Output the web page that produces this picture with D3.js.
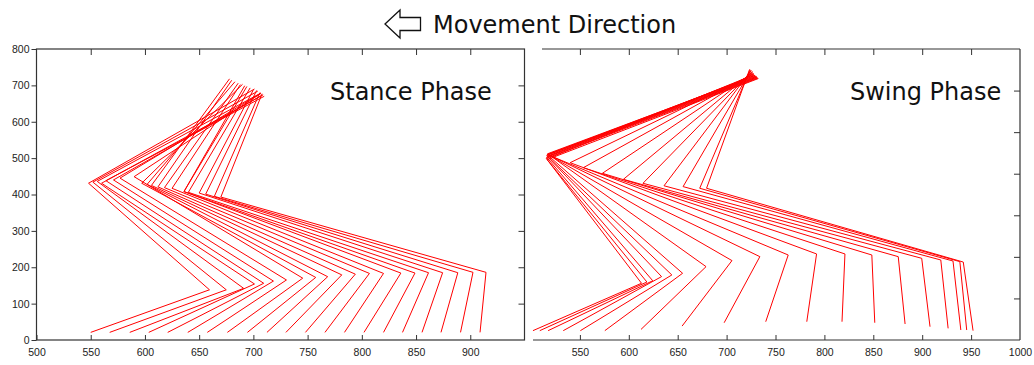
<!DOCTYPE html>
<html>
<head>
<meta charset="utf-8">
<script src="https://cdn.jsdelivr.net/npm/d3@7"></script>
<style>
  html, body { margin: 0; padding: 0; background: #fff; }
  svg { display: block; }
  .tick-label { font-family: "Liberation Sans", Arial, sans-serif; font-size: 10.5px; fill: #222; }
  .big { font-family: "DejaVu Sans", Verdana, sans-serif; font-size: 24px; fill: #111; }
</style>
</head>
<body>
<svg id="chart" width="1034" height="365"></svg>
<script>
// Leg joint positions per frame: hip -> knee -> ankle -> toe.

// Stance phase (21 frames)
const stanceHipX   = [701, 704, 707, 709, 710, 708, 706, 707, 690, 683, 678, 680, 686, 688, 692, 694, 697, 700, 703, 706, 708];
const stanceHipY   = [690, 684, 679, 674, 670, 673, 677, 678, 703, 710, 718, 714, 706, 702, 699, 697, 693, 688, 686, 680, 677];
const stanceKneeX  = [548, 552, 556, 560, 564, 571, 577, 590, 597, 602, 606, 612, 618, 625, 636, 636, 640, 650, 656, 664, 670];
const stanceKneeY  = [431, 434, 436, 431, 438, 440, 445, 449, 431, 428, 425, 421, 419, 417, 408, 408, 406, 404, 401, 395, 393];
const stanceAnkleX = [659.5, 675, 691, 701, 709.5, 718.5, 730.5, 745.5, 757.5, 768.5, 781.5, 794, 807, 820, 836, 849, 861.5, 874.5, 888.5, 902.5, 914.5];
const stanceAnkleY = [138, 138, 142, 154, 156, 162, 165, 170, 172, 174, 179, 181, 183, 183, 184, 184, 185, 185, 185, 186, 186];
const stanceToeX   = [550, 567.5, 586, 603.5, 621, 639.5, 657.5, 676, 694.5, 712.5, 730, 748, 766, 784, 802, 820, 837.5, 855.5, 873, 891, 909];
const stanceToeY   = [21, 21, 21, 21, 21, 21, 21, 21, 21, 21, 21, 21, 21, 21, 21, 21, 21, 21, 21, 21, 21];

// Swing phase (19 frames)
const swingHipX   = [723.5, 724, 725, 725, 726, 726.5, 727, 727.5, 728, 728, 729, 729, 730, 730.5, 731, 731, 731.5, 732, 732.5];
const swingHipY   = [651, 650, 649, 648, 646, 645, 643, 641, 640, 638, 637, 636, 635, 634, 633, 632, 631, 630, 629];
const swingKneeX  = [679.5, 672.5, 655.5, 636, 614.5, 594.5, 573, 553.5, 540, 522, 519.5, 517.5, 517, 516.5, 516, 516.5, 516, 515.5, 516.5];
const swingKneeY  = [365, 365, 369, 371, 377, 386.5, 401, 414.5, 426.5, 441, 444, 446, 448, 446, 444, 442, 439.5, 437, 434];
const swingAnkleX = [942, 938.5, 931.5, 919, 899.5, 875.5, 848.5, 821, 792, 763, 734, 705.5, 679, 655, 644, 633.5, 624.5, 618.5, 613];
const swingAnkleY = [187.5, 188.5, 190, 192.5, 196.5, 200.5, 204.5, 207, 207, 204.5, 200.5, 191, 176.5, 160.5, 156.5, 152.5, 142.5, 139.5, 136.5];
const swingToeX   = [952, 945.5, 939.5, 926.5, 908, 882.5, 851.5, 818, 782, 740, 697.5, 654.5, 612.5, 575.5, 550.5, 533, 517.5, 509, 502];
const swingToeY   = [22.5, 24, 24, 28, 32, 38.5, 41.5, 44, 44, 44, 41.5, 33.5, 25.5, 22.5, 22.5, 22.5, 22.5, 22.5, 22.5];

// Axis ticks
const stanceXTicks = [500, 550, 600, 650, 700, 750, 800, 850, 900];
const stanceYTicks = [0, 100, 200, 300, 400, 500, 600, 700, 800];
const swingXTicks  = [550, 600, 650, 700, 750, 800, 850, 900, 950, 1000];
const swingYTicks  = [100, 200, 300, 400, 500, 600];

const titleText = "Movement Direction";
const stanceLabel = "Stance Phase";
const swingLabel = "Swing Phase";

const svg = d3.select("#chart");
const RED = "#ff0000";
const AXIS = "#333";

function frames(hx, hy, kx, ky, ax, ay, tx, ty) {
  return hx.map((_, i) => [
    [hx[i], hy[i]], [kx[i], ky[i]], [ax[i], ay[i]], [tx[i], ty[i]]
  ]);
}

function drawLegs(g, x, y, legs) {
  const line = d3.line().x(d => x(d[0])).y(d => y(d[1]));
  g.selectAll("path.leg").data(legs).join("path")
    .attr("class", "leg")
    .attr("d", line)
    .attr("fill", "none")
    .attr("stroke", RED)
    .attr("stroke-width", 1)
    .attr("stroke-linejoin", "miter");
}

function styleAxis(a) {
  a.select(".domain").remove();
  a.selectAll(".tick line").attr("stroke", AXIS).attr("stroke-width", 1);
  a.selectAll(".tick text").attr("class", "tick-label").attr("fill", null);
  a.attr("font-family", null).attr("font-size", null);
}

// ---------- Left panel: stance ----------
{
  const x = d3.scaleLinear().domain([500, 950]).range([36.5, 524.5]);
  const y = d3.scaleLinear().domain([0, 800]).range([340, 49]);
  const g = svg.append("g");

  drawLegs(g, x, y, frames(stanceHipX, stanceHipY, stanceKneeX, stanceKneeY,
                            stanceAnkleX, stanceAnkleY, stanceToeX, stanceToeY));

  g.append("rect")
    .attr("x", x(500)).attr("y", y(800))
    .attr("width", x(950) - x(500)).attr("height", y(0) - y(800))
    .attr("fill", "none").attr("stroke", AXIS).attr("stroke-width", 1.2);

  const gb = g.append("g").attr("transform", `translate(0,${y(0)})`)
    .call(d3.axisBottom(x).tickValues(stanceXTicks).tickSize(-5).tickPadding(9).tickFormat(d3.format("d")));
  const gt = g.append("g").attr("transform", `translate(0,${y(800)})`)
    .call(d3.axisTop(x).tickValues(stanceXTicks.slice(1)).tickSize(-6).tickFormat(""));
  const gl = g.append("g").attr("transform", `translate(${x(500)},0)`)
    .call(d3.axisLeft(y).tickValues(stanceYTicks).tickSize(5).tickPadding(2).tickFormat(d3.format("d")));
  const gr = g.append("g").attr("transform", `translate(${x(950)},0)`)
    .call(d3.axisRight(y).tickValues(stanceYTicks.slice(1, -1)).tickSize(-6).tickFormat(""));
  [gb, gt, gl, gr].forEach(styleAxis);

  g.append("text").attr("class", "big").attr("x", 330).attr("y", 100).text(stanceLabel);
}

// ---------- Right panel: swing ----------
{
  const x = d3.scaleLinear().domain([500, 1000]).range([531, 1020]);
  const y = d3.scaleLinear().domain([0, 700]).range([340, 49]);
  const g = svg.append("g");

  drawLegs(g, x, y, frames(swingHipX, swingHipY, swingKneeX, swingKneeY,
                            swingAnkleX, swingAnkleY, swingToeX, swingToeY));

  // open frame: top, right, bottom
  g.append("line").attr("x1", 542).attr("x2", x(1000)).attr("y1", y(700)).attr("y2", y(700))
    .attr("stroke", AXIS).attr("stroke-width", 1.2);
  g.append("line").attr("x1", x(1000)).attr("x2", x(1000)).attr("y1", y(700)).attr("y2", y(0))
    .attr("stroke", AXIS).attr("stroke-width", 1.2);
  g.append("line").attr("x1", x(500) + 2).attr("x2", x(1000)).attr("y1", y(0)).attr("y2", y(0))
    .attr("stroke", AXIS).attr("stroke-width", 1.2);

  const gb = g.append("g").attr("transform", `translate(0,${y(0)})`)
    .call(d3.axisBottom(x).tickValues(swingXTicks).tickSize(-5).tickPadding(9).tickFormat(d3.format("d")));
  const gt = g.append("g").attr("transform", `translate(0,${y(700)})`)
    .call(d3.axisTop(x).tickValues(swingXTicks.slice(0, -1)).tickSize(-6).tickFormat(""));
  const gr = g.append("g").attr("transform", `translate(${x(1000)},0)`)
    .call(d3.axisRight(y).tickValues(swingYTicks).tickSize(-6).tickFormat(""));
  [gb, gt, gr].forEach(styleAxis);
  // the last bottom tick sits on the frame corner; keep only its label
  gb.selectAll(".tick").filter(d => d === 1000).select("line").remove();

  g.append("text").attr("class", "big").attr("x", 850).attr("y", 100).text(swingLabel);
}

// ---------- Title with outlined arrow ----------
{
  const g = svg.append("g");
  const arrow = d3.path();
  arrow.moveTo(385, 24);
  arrow.lineTo(400, 10);
  arrow.lineTo(400, 17.5);
  arrow.lineTo(420.5, 17.5);
  arrow.lineTo(420.5, 30.5);
  arrow.lineTo(400, 30.5);
  arrow.lineTo(400, 38);
  arrow.closePath();
  g.append("path").attr("d", arrow.toString())
    .attr("fill", "#fff").attr("stroke", "#111").attr("stroke-width", 1.3)
    .attr("stroke-linejoin", "miter");
  g.append("text").attr("class", "big").attr("x", 433).attr("y", 33).text(titleText);
}
</script>
</body>
</html>
